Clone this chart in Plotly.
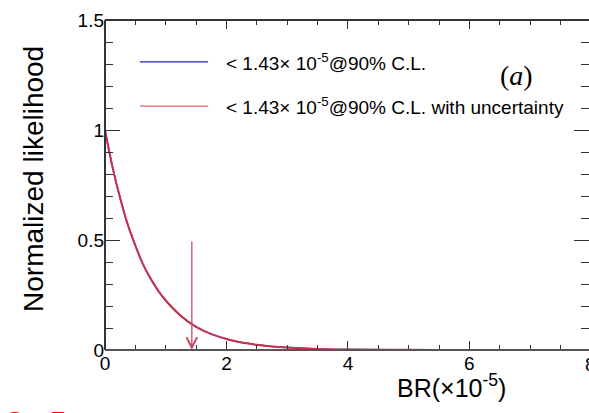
import plotly.graph_objects as go

# ---- data ----
br_values = [0.0, 0.125, 0.25, 0.375, 0.5, 0.625, 0.75, 0.875, 1.0, 1.25, 1.5, 1.75, 2.0,
             2.25, 2.5, 2.75, 3.0, 3.5, 4.0, 5.0, 6.0, 7.0, 8.0]
likelihood = [1.0, 0.83, 0.69, 0.57, 0.475, 0.39, 0.325, 0.27, 0.225, 0.155, 0.105, 0.072, 0.05,
              0.034, 0.024, 0.016, 0.011, 0.005, 0.0025, 0.0006, 0.0001, 0.0, 0.0]
likelihood_unc = likelihood[:]  # overlapping curve (with uncertainty)
upper_limit = 1.43
arrow_top = 0.5
legend_labels = ["< 1.43× 10<sup>-5</sup>@90% C.L.",
                 "< 1.43× 10<sup>-5</sup>@90% C.L. with uncertainty"]
x_ticks = [0, 2, 4, 6]
y_ticks = [0, 0.5, 1, 1.5]
y_ticklabels = ["0", "0.5", "1", "1.5"]

BLUE = "#1a1fc4"
RED = "#c8334a"
RED_LEG = "#e0606a"
FONT = "Liberation Sans"

fig = go.Figure()
fig.add_trace(go.Scatter(x=br_values, y=likelihood, mode="lines",
                         line=dict(color=BLUE, width=1.5, shape="spline"),
                         name=legend_labels[0], showlegend=False))
fig.add_trace(go.Scatter(x=br_values, y=likelihood_unc, mode="lines",
                         line=dict(color=RED, width=2, shape="spline"),
                         name=legend_labels[1], showlegend=False))

# arrow at the upper limit
fig.add_annotation(x=upper_limit, y=0, ax=upper_limit, ay=arrow_top,
                   xref="x", yref="y", axref="x", ayref="y",
                   showarrow=True, arrowhead=5, arrowsize=1.6, arrowwidth=1.3,
                   arrowcolor="#c84a66", text="")

# axis frame lines (left, bottom, top); right side is clipped in the reference
for x0, y0, x1, y1, c in [(0, 0, 0, 1, "#333"), (0, 0, 1, 0, "#555"), (0, 1, 1, 1, "#333")]:
    fig.add_shape(type="line", xref="paper", yref="paper", x0=x0, y0=y0, x1=x1, y1=y1,
                  line=dict(color=c, width=2), layer="above")

# manual legend
leg_x0, leg_x1 = 0.072, 0.213
leg_rows = [0.873, 0.739]
for col, yy, lab in zip([BLUE, RED_LEG], leg_rows, legend_labels):
    fig.add_shape(type="line", xref="paper", yref="paper",
                  x0=leg_x0, x1=leg_x1, y0=yy, y1=yy, line=dict(color=col, width=1.2))
    fig.add_annotation(xref="paper", yref="paper", x=0.246, y=yy, text=lab,
                       showarrow=False, xanchor="left", yanchor="middle",
                       font=dict(family=FONT, size=19, color="black"))

fig.add_annotation(xref="paper", yref="paper", x=0.851, y=0.833,
                   text="(<i>a</i>)", showarrow=False, xanchor="center", yanchor="middle",
                   font=dict(family="Liberation Serif", size=28, color="black"))

# axis titles
fig.add_annotation(xref="paper", yref="paper", x=-0.149, y=0.518,
                   text="Normalized likelihood", textangle=-90, showarrow=False,
                   xanchor="center", yanchor="middle",
                   font=dict(family=FONT, size=28, color="black"))
fig.add_annotation(xref="paper", yref="paper", x=0.715, y=-0.108,
                   text="BR(×10<sup>-5</sup>)", showarrow=False,
                   xanchor="center", yanchor="middle",
                   font=dict(family=FONT, size=25, color="black"))
# clipped "8" tick label at the right edge
fig.add_annotation(xref="paper", yref="paper", x=1.003, y=-0.005, text="8",
                   showarrow=False, xanchor="center", yanchor="top",
                   font=dict(family=FONT, size=19, color="black"))
# cut-off red text at the bottom-left
fig.add_annotation(xref="paper", yref="paper", x=-0.215, y=-0.16, text="C&nbsp;&nbsp;&nbsp;5",
                   showarrow=False, xanchor="left", yanchor="top",
                   font=dict(family=FONT, size=30, color="red"))

fig.update_xaxes(range=[0, 7.97], tickvals=x_ticks, ticktext=[str(t) for t in x_ticks],
                 ticks="inside", ticklen=9, tickwidth=1.2, tickcolor="#333",
                 minor=dict(dtick=0.5, tick0=0, ticks="inside", ticklen=5, tickwidth=1, tickcolor="#333"),
                 showline=False, mirror="ticks",
                 showgrid=False, zeroline=False,
                 tickfont=dict(family=FONT, size=19, color="black"))
fig.update_yaxes(range=[0, 1.5], tickvals=y_ticks, ticktext=y_ticklabels,
                 ticks="inside", ticklen=15, tickwidth=1.2, tickcolor="#333",
                 minor=dict(dtick=0.1, tick0=0, ticks="inside", ticklen=8, tickwidth=1, tickcolor="#333"),
                 showline=False, mirror="ticks",
                 showgrid=False, zeroline=False,
                 tickfont=dict(family=FONT, size=19, color="black"))

fig.update_layout(width=589, height=413,
                  margin=dict(l=105, r=0, t=20, b=63),
                  plot_bgcolor="white", paper_bgcolor="white",
                  showlegend=False)

fig.write_html("out.html")
